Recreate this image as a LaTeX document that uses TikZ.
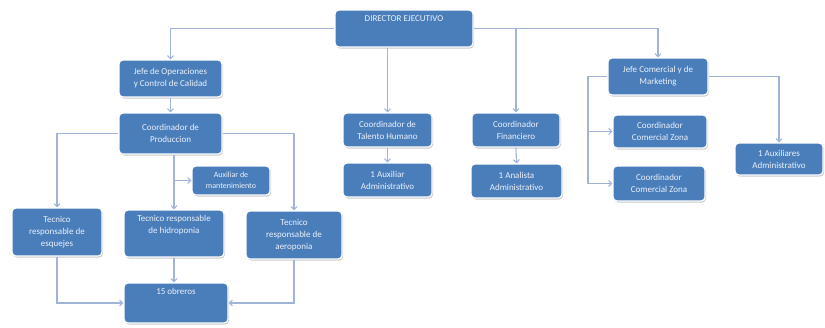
\documentclass[tikz,border=0pt]{standalone}
\usepackage{fontspec}
\setmainfont{Carlito}
\usetikzlibrary{arrows.meta,shadows,calc}
\definecolor{boxblue}{RGB}{74,126,187}
\definecolor{linkblue}{RGB}{160,180,216}
\definecolor{txtwhite}{RGB}{236,241,250}
\tikzset{
  orgbox/.style={rectangle, rounded corners=4pt, fill=boxblue, draw=white,
    line width=1.2pt, text=txtwhite, align=center, inner sep=2pt,
    font=\fontsize{9}{12}\selectfont,
    drop shadow={shadow xshift=1pt, shadow yshift=-1.5pt, fill=black!45, opacity=0.45}},
  toptext/.style={text=txtwhite, font=\fontsize{9}{12}\selectfont, anchor=north, inner sep=0pt},
  link/.style={draw=linkblue, line width=1.1pt, -{Straight Barb[length=3pt,width=6pt]}},
  plainlink/.style={draw=linkblue, line width=1.1pt}
}
% Box helper: centre (x,y) in px, width, height
\newcommand{\obox}[6][]{\node[orgbox, minimum width=#4pt, minimum height=#5pt, #1] (#2) at (#3) {#6};}
\begin{document}
\begin{tikzpicture}[x=1pt, y=-1pt]
\useasboundingbox (0,0) rectangle (825,327);

% Top level
\obox{dir}{404,28.5}{138}{37}{}
\node[toptext] (dirtxt) at ($(dir.north)+(0,6)$) {DIRECTOR EJECUTIVO};

% Operations branch
\obox{jops}{170.5,78.5}{103}{37}{Jefe de Operaciones\\y Control de Calidad}
\obox{cprod}{170.5,133.5}{103}{41}{Coordinador de\\Produccion}
\obox[font=\fontsize{8}{11}\selectfont]{mant}{231,180.5}{78}{29}{Auxiliar de\\mantenimiento}
\obox{tesq}{57,232}{90}{48}{Tecnico\\responsable de\\esquejes}
\obox{thid}{174,233.5}{100}{47}{Tecnico responsable\\de hidroponia\\[6pt]}
\obox{taer}{294,235}{96}{48}{Tecnico\\responsable de\\aeroponia}
\obox{obr}{176,303}{104}{40}{}
\node[toptext] (obrtxt) at ($(obr.north)+(0,6)$) {15 obreros};

% Human resources and finance
\obox{ctal}{387.5,130}{89}{34}{Coordinador de\\Talento Humano}
\obox{auxa}{387.5,180}{89}{34}{1 Auxiliar\\Administrativo}
\obox{cfin}{516,130}{88}{34}{Coordinador\\Financiero}
\obox{anal}{516.5,181}{91}{34}{1 Analista\\Administrativo}

% Commercial branch
\obox{jcom}{658,76.5}{100}{37}{Jefe Comercial y de\\Marketing}
\obox{ccz1}{660,131.5}{94}{33}{Coordinador\\Comercial Zona}
\obox{ccz2}{659,183.5}{92}{35}{Coordinador\\Comercial Zona}
\obox{auxc}{779,159}{88}{32}{1 Auxiliares\\Administrativo}

% Bus lines
\coordinate (combus) at (588,0);
\coordinate (hidbus) at (174,0);

% Connectors from the director
\draw[link] (dir.west) -| (jops.north);
\draw[link] (dir.south -| ctal.north) -- (ctal.north);
\draw[link] (dir.east) -| (jcom.north);
\draw[link] (dir.east -| cfin.north) -- (cfin.north);

% Operations connectors
\draw[link] (jops.south) -- (cprod.north);
\draw[link] (cprod.west) -| (tesq.north);
\draw[link] (cprod.east) -| (taer.north);
\draw[link] (cprod.south -| hidbus) -- (thid.north -| hidbus);
\draw[link] (mant.west -| hidbus) -- (mant.west);
\draw[link] (thid.south -| hidbus) -- (obr.north -| hidbus);
\draw[link] (tesq.south) |- (obr.west);
\draw[link] (taer.south) |- (obr.east);

% Staff connectors
\draw[link] (ctal.south) -- (auxa.north);
\draw[link] (cfin.south) -- (anal.north);

% Commercial connectors
\draw[link] (jcom.west) -- (jcom.west -| combus) |- (ccz2.west);
\draw[link] (ccz1.west -| combus) -- (ccz1.west);
\draw[link] (jcom.east) -| (auxc.north);
\end{tikzpicture}
\end{document}
